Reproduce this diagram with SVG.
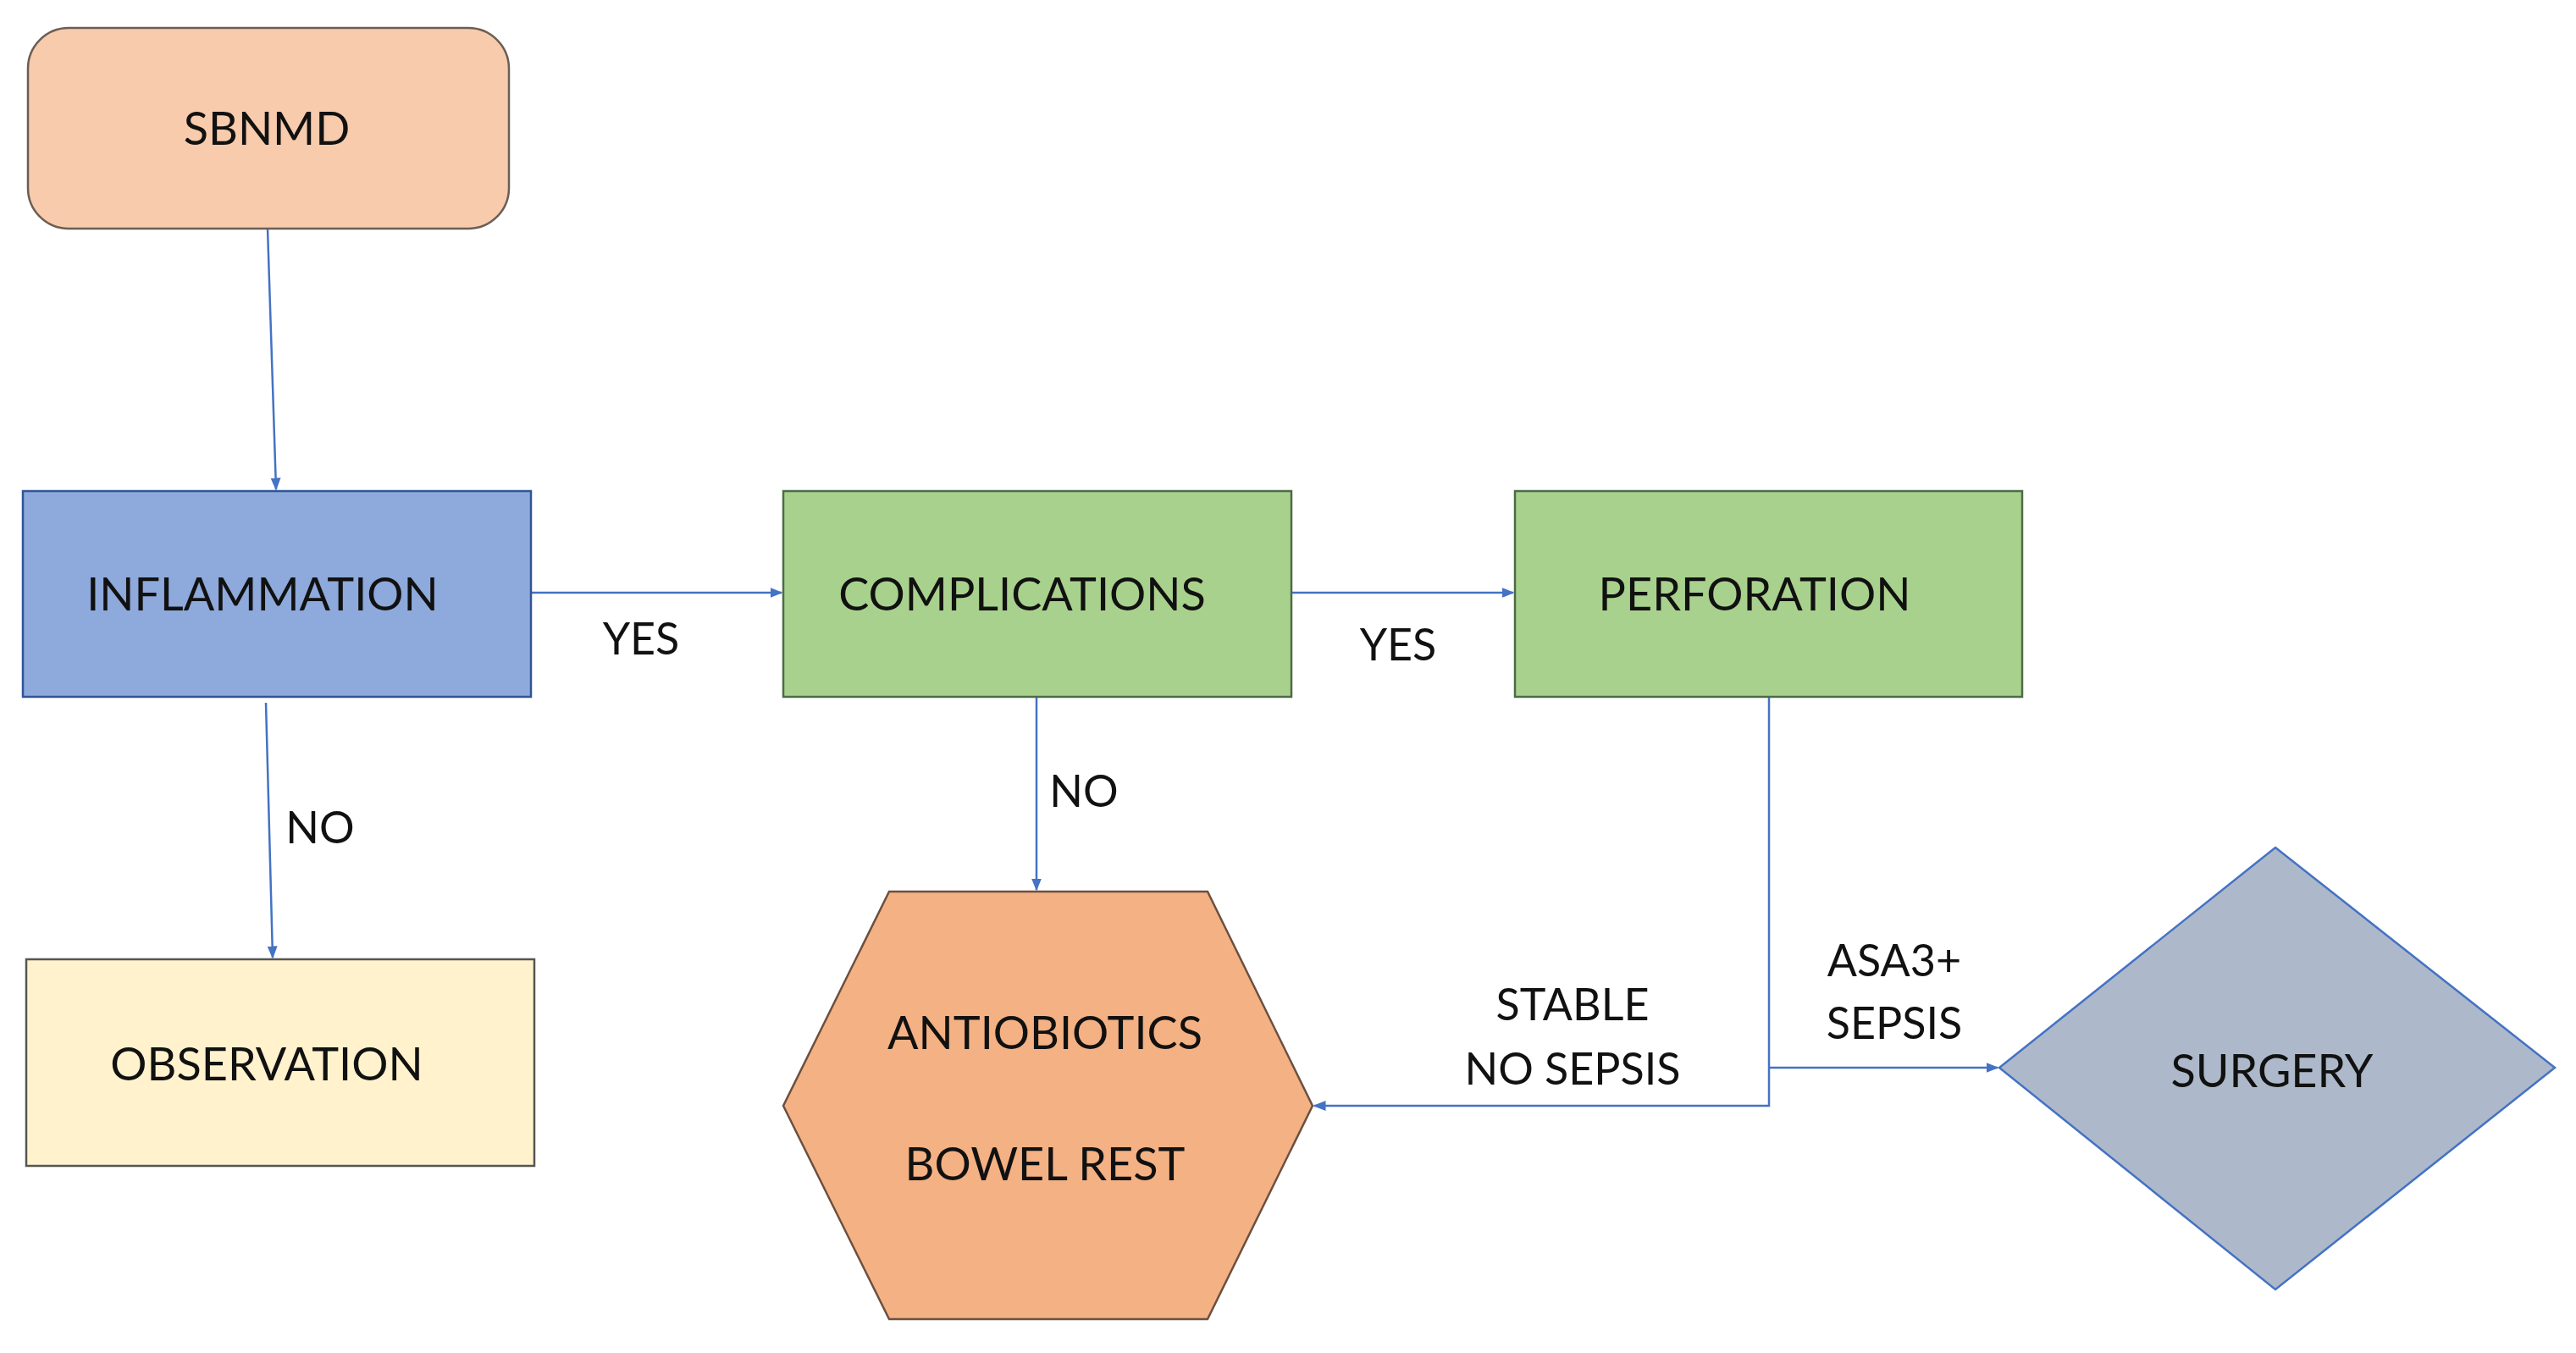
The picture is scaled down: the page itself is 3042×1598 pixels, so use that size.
<svg xmlns="http://www.w3.org/2000/svg" width="3042" height="1598" viewBox="0 0 3042 1598">
<style>
text{font-family:Lato,"Open Sans","Liberation Sans",sans-serif;font-size:54px;fill:#111;text-anchor:middle;dominant-baseline:central}
.lbl{font-size:52px}
.c{fill:none;stroke:#4472C4;stroke-width:2.5}
.n{stroke-width:2.5}
</style>
<defs><marker id="a" viewBox="0 0 10 10" refX="9" refY="5" markerWidth="6" markerHeight="6" orient="auto"><path d="M0,1L10,5L0,9z" fill="#4472C4"/></marker></defs>
<rect width="3042" height="1598" fill="#fff"/>
<g id="connectors">
<line class="c" x1="316" y1="270" x2="326" y2="578" marker-end="url(#a)"/>
<line class="c" x1="314" y1="830" x2="322" y2="1131" marker-end="url(#a)"/>
<line class="c" x1="627" y1="700" x2="923" y2="700" marker-end="url(#a)"/>
<line class="c" x1="1525" y1="700" x2="1787" y2="700" marker-end="url(#a)"/>
<line class="c" x1="1224" y1="823" x2="1224" y2="1051" marker-end="url(#a)"/>
<polyline class="c" points="2089,823 2089,1306 1552,1306" marker-end="url(#a)"/>
<line class="c" x1="2089" y1="1261" x2="2359" y2="1261" marker-end="url(#a)"/>
<text class="lbl" x="757" y="753">YES</text>
<text class="lbl" x="1651" y="760">YES</text>
<text class="lbl" x="378" y="976">NO</text>
<text class="lbl" x="1280" y="933">NO</text>
<text class="lbl" x="1857" y="1185">STABLE</text>
<text class="lbl" x="1857" y="1261">NO SEPSIS</text>
<text class="lbl" x="2237" y="1133">ASA3+</text>
<text class="lbl" x="2237" y="1207">SEPSIS</text>
</g>
<g id="sbnmd"><rect class="n" x="33" y="33" width="568" height="237" rx="48" fill="#F7CBAC" stroke="#6b5e55"/><text x="315" y="150">SBNMD</text></g>
<g id="inflammation"><rect class="n" x="27" y="580" width="600" height="243" fill="#8EA9DB" stroke="#2F5597"/><text x="310" y="700">INFLAMMATION</text></g>
<g id="observation"><rect class="n" x="31" y="1133" width="600" height="244" fill="#FFF2CC" stroke="#555"/><text x="315" y="1255">OBSERVATION</text></g>
<g id="complications"><rect class="n" x="925" y="580" width="600" height="243" fill="#A9D18E" stroke="#4d6b47"/><text x="1207" y="700">COMPLICATIONS</text></g>
<g id="perforation"><rect class="n" x="1789" y="580" width="599" height="243" fill="#A9D18E" stroke="#4d6b47"/><text x="2072" y="700">PERFORATION</text></g>
<g id="antibiotics"><polygon class="n" points="1050,1053 1426,1053 1550,1306 1426,1558 1050,1558 925,1306" fill="#F4B183" stroke="#6b5040"/><text x="1234" y="1218">ANTIOBIOTICS</text><text x="1234" y="1373">BOWEL REST</text></g>
<g id="surgery"><polygon class="n" points="2687,1001 3017,1261 2687,1523 2361,1261" fill="#ADB9CA" stroke="#4472C4"/><text x="2683" y="1263">SURGERY</text></g>
</svg>
